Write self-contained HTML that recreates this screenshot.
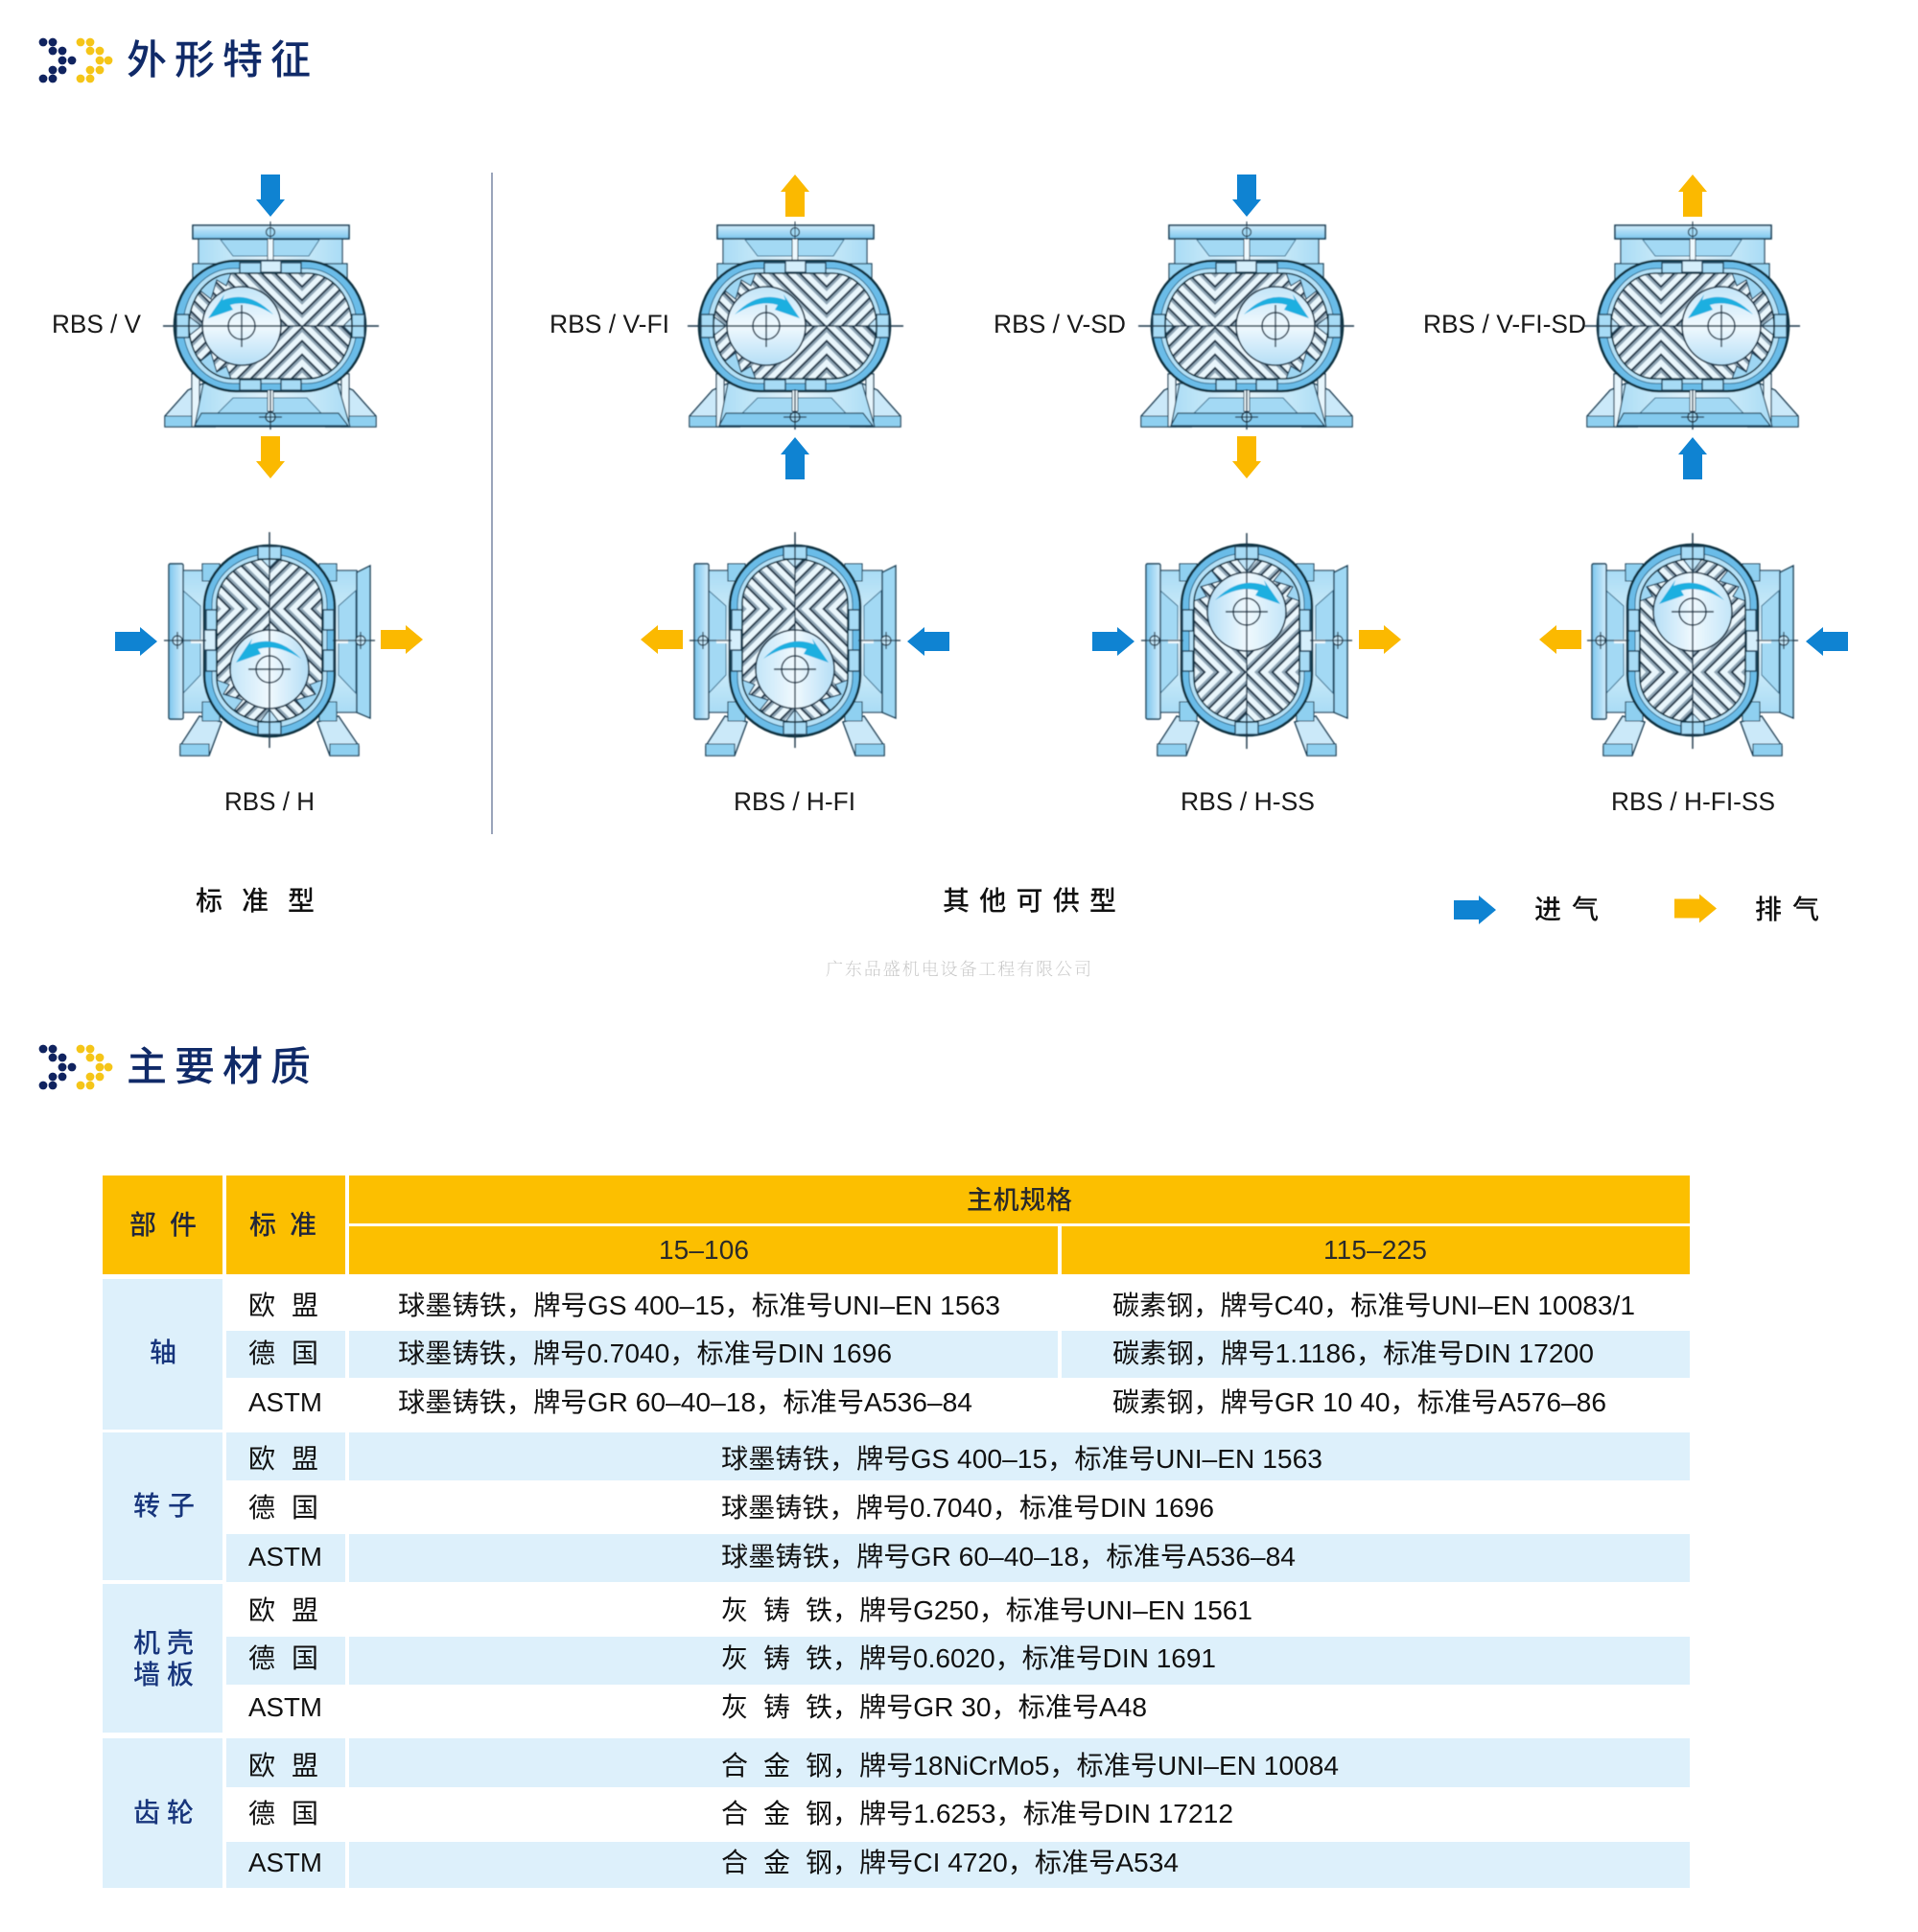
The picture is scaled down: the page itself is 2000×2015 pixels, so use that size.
<!DOCTYPE html>
<html lang="zh">
<head>
<meta charset="utf-8">
<title>外形特征 主要材质</title>
<style>
html,body{margin:0;padding:0;background:#fff;width:2000px;height:2015px;overflow:hidden}
svg{display:block}
text{font-family:"Liberation Sans","Noto Sans CJK SC",sans-serif;fill:#111}
.t{font-size:28px}
.h{font-size:28px;font-weight:500}
.n{font-size:28px;font-weight:500;fill:#17357c}
.title{font-size:42px;fill:#102a68;font-weight:500}
.lab{font-size:26.5px;fill:#1a1a1a}
.cap{font-size:28px;font-weight:500;fill:#111}
</style>
</head>
<body>
<svg xmlns="http://www.w3.org/2000/svg" width="2000" height="2015" viewBox="0 0 2000 2015">
<defs>
<filter id="soft" x="-2%" y="-2%" width="104%" height="104%"><feGaussianBlur stdDeviation="0.45"/></filter>
<linearGradient id="rot" x1="0" y1="0" x2="0" y2="1"><stop offset="0" stop-color="#c3e5f8"/><stop offset=".5" stop-color="#f0f9fe"/><stop offset="1" stop-color="#b5def6"/></linearGradient>
<linearGradient id="lg" x1="0" y1="0" x2="1" y2="0"><stop offset="0" stop-color="#a9dcf5"/><stop offset=".5" stop-color="#e4f4fc"/><stop offset="1" stop-color="#a9dcf5"/></linearGradient>
<linearGradient id="lgv" x1="0" y1="0" x2="0" y2="1"><stop offset="0" stop-color="#a9dcf5"/><stop offset=".5" stop-color="#e4f4fc"/><stop offset="1" stop-color="#a9dcf5"/></linearGradient>
<linearGradient id="fl" x1="0" y1="0" x2="0" y2="1"><stop offset="0" stop-color="#d2edfb"/><stop offset="1" stop-color="#7cc6ee"/></linearGradient>
<linearGradient id="flh" x1="0" y1="0" x2="1" y2="0"><stop offset="0" stop-color="#7cc6ee"/><stop offset="1" stop-color="#d2edfb"/></linearGradient>
<pattern id="ha" width="10" height="10" patternUnits="userSpaceOnUse" patternTransform="translate(33 0) rotate(45)">
<rect width="10" height="10" fill="#e9f6fc"/><rect x="0" y="0" width="10" height="2.2" fill="#22394c"/><rect x="0" y="2.2" width="10" height="2.2" fill="#8ea5b5"/>
</pattern>
<pattern id="hb" width="10" height="10" patternUnits="userSpaceOnUse" patternTransform="translate(33 0) rotate(-45)">
<rect width="10" height="10" fill="#e9f6fc"/><rect x="0" y="0" width="10" height="2.2" fill="#22394c"/><rect x="0" y="2.2" width="10" height="2.2" fill="#8ea5b5"/>
</pattern>
<clipPath id="chamber"><rect x="-85" y="-55" width="170" height="110" rx="46" ry="55"/></clipPath>

<path id="arr" d="M0,-10H26V-15L44,0L26,15V10H0Z"/>
<path id="rar" d="M33,-12Q8,-38 -20,-27L-18,-33L-35,-8L-9,-17L-12,-22Q8,-28 33,-12Z" fill="#1cafe0"/>

<g id="core">
<rect x="-100" y="-68" width="199" height="136" rx="64" ry="68" fill="#6abce8" stroke="#10303f" stroke-width="2.6"/>
<rect x="-91" y="-60" width="181" height="120" rx="52" ry="60" fill="#b4e0f6" stroke="#2a6788" stroke-width="1"/>
<g fill="#a7dbf5" stroke="#1a4058" stroke-width="1.4">
<rect x="-32" y="-66" width="22" height="11"/><rect x="11" y="-66" width="21" height="11"/><rect x="-10" y="-68" width="21" height="12" fill="#d5eefb"/>
<rect x="-32" y="56" width="22" height="11"/><rect x="11" y="56" width="21" height="11"/>
<rect x="-98" y="-12" width="13" height="24"/><rect x="85" y="-12" width="13" height="24"/>
</g>
<rect x="-85" y="-55" width="170" height="110" rx="46" ry="55" fill="#e9f6fc"/>
<g clip-path="url(#chamber)">
<rect x="-90" y="-60" width="123" height="60" fill="url(#ha)"/>
<rect x="33" y="0" width="60" height="60" fill="url(#ha)"/>
<rect x="33" y="-60" width="60" height="60" fill="url(#hb)"/>
<rect x="-90" y="0" width="123" height="60" fill="url(#hb)"/>
<path d="M-85,-24L-72,-36L-62,-28L-56,-48L-46,-42L-40,-58L-100,-58Z" fill="#9ed6f3" stroke="#1a4058" stroke-width="1.2"/>
<path d="M-85,24L-72,36L-62,28L-56,48L-46,42L-40,58L-100,58Z" fill="#9ed6f3" stroke="#1a4058" stroke-width="1.2"/>
<path d="M85,-26L76,-40L64,-56H100Z M85,26L76,40L64,56H100Z" fill="#9ed6f3" stroke="#1a4058" stroke-width="1.2"/>
<path d="M-90,-14L-72,0L-90,14Z M90,-14L76,0L90,14Z" fill="#bfe4f8" stroke="#1a4058" stroke-width="1.2"/>
</g>
<rect x="-85" y="-55" width="170" height="110" rx="46" ry="55" fill="none" stroke="#10303f" stroke-width="1.6"/>
<circle cx="-30" cy="0" r="41" fill="url(#rot)" stroke="#1a3446" stroke-width="1.6"/>
<circle cx="-30" cy="0" r="14" fill="none" stroke="#1a3446" stroke-width="1.5"/>
<path d="M-112,0H113M-30,-22V22" stroke="#1a3446" stroke-width="1.4" fill="none"/>
</g>

<g id="hv">
<path d="M-110,94L-86,67L-70,60L-58,105H-110Z" fill="#cbe9f9" stroke="#153d55" stroke-width="1.5"/>
<path d="M110,94L86,67L70,60L58,105H110Z" fill="#cbe9f9" stroke="#153d55" stroke-width="1.5"/>
<path d="M-110,94H-58V105H-110Z M58,94H110V105H58Z" fill="#8fd0f0" stroke="#153d55" stroke-width="1"/>
<path d="M-82,50H-74V105H-82Z M74,50H82V105H74Z" fill="#e6f5fc" stroke="#153d55" stroke-width="1.2"/>
<path d="M-70,60H70L83,105H-79Z" fill="url(#lg)" stroke="#153d55" stroke-width="1.2"/>
<path d="M-39,75H38L53,91H-55Z" fill="#a3d9f4" stroke="#3a6f8d" stroke-width="1"/>
<path d="M-72,91H71L81,104H-79Z" fill="#84caee" stroke="#153d55" stroke-width="1.2"/>
<rect x="-75" y="-91" width="150" height="30" fill="url(#lg)" stroke="#153d55" stroke-width="1.2"/>
<path d="M-52,-90H51L40,-73H-39Z" fill="#a3d9f4" stroke="#3a6f8d" stroke-width="1"/>
<rect x="-81" y="-65" width="161" height="20" fill="#98d4f2" stroke="#153d55" stroke-width="1.2"/>
<rect x="-81" y="-105" width="163" height="14" fill="url(#fl)" stroke="#153d55" stroke-width="1.6"/>
<rect x="-3" y="-91" width="6" height="26" fill="#eef9fe" stroke="#153d55" stroke-width="1"/>
<circle cx="0" cy="-98" r="4.5" fill="#a3d9f4" stroke="#1a3446" stroke-width="1.2"/>
<path d="M0,-109V-90" stroke="#1a3446" stroke-width="1"/>
</g>
<g id="hv2">
<rect x="-3" y="67" width="6" height="22" fill="#eef9fe" stroke="#153d55" stroke-width="1"/>
<circle cx="0" cy="95" r="5" fill="#a3d9f4" stroke="#1a3446" stroke-width="1.4"/>
<path d="M-12,95H12M0,66V108" stroke="#1a3446" stroke-width="1.3"/>
</g>

<g id="hh">
<path d="M-93,110L-73,79L-50,85L-63,120H-93Z" fill="#cbe9f9" stroke="#153d55" stroke-width="1.5"/>
<path d="M93,110L72,79L50,85L63,120H93Z" fill="#cbe9f9" stroke="#153d55" stroke-width="1.5"/>
<path d="M-93,108H-63V120H-93Z M63,108H93V120H63Z" fill="#8fd0f0" stroke="#153d55" stroke-width="1.1"/>
<rect x="-91" y="-73" width="182" height="148" fill="url(#lgv)" stroke="#153d55" stroke-width="1.2"/>
<path d="M-90,-52L-72,-36V36L-90,55Z M90,-52L72,-36V36L90,55Z" fill="#a3d9f4" stroke="#3a6f8d" stroke-width="1"/>
<rect x="-82" y="-1" width="16" height="4" fill="#f2fbff"/><rect x="66" y="-1" width="16" height="4" fill="#f2fbff"/>
<rect x="-105" y="-80" width="15" height="162" rx="1.5" fill="url(#flh)" stroke="#153d55" stroke-width="1.4"/>
<path d="M91,-71L105,-78V81L91,75Z" fill="#9fd8f4" stroke="#153d55" stroke-width="1.4"/>
<path d="M-70,-80H-52V-62H-70Z M52,-80H70V-62H52Z M-70,64H-52V84H-70Z M52,64H70V84H52Z" fill="#8fd0f0" stroke="#153d55" stroke-width="1.1"/>
</g>
<g id="hh2">
<circle cx="-96" cy="0" r="5" fill="#c6e8f9" stroke="#1a3446" stroke-width="1.2"/>
<circle cx="95" cy="0" r="5" fill="#c6e8f9" stroke="#1a3446" stroke-width="1.2"/>
<path d="M-110,0H-66M66,0H110M-96,-9V9M95,-9V9" stroke="#1a3446" stroke-width="1.2"/>
</g>
</defs>

<rect width="2000" height="2015" fill="#fff"/>

<!-- logos -->
<g id="logo">
<g fill="#10235f"><circle cx="45" cy="44" r="4.4"/><circle cx="55" cy="44" r="4.4"/><circle cx="55" cy="53" r="4.4"/><circle cx="65" cy="53" r="4.4"/><circle cx="65" cy="63" r="4.4"/><circle cx="75" cy="63" r="4.4"/><circle cx="55" cy="73" r="4.4"/><circle cx="65" cy="73" r="4.4"/><circle cx="45" cy="82" r="4.4"/><circle cx="55" cy="82" r="4.4"/></g>
<g fill="#f5c518"><circle cx="84" cy="44" r="4.4"/><circle cx="94" cy="44" r="4.4"/><circle cx="94" cy="53" r="4.4"/><circle cx="104" cy="53" r="4.4"/><circle cx="104" cy="63" r="4.4"/><circle cx="113" cy="63" r="4.4"/><circle cx="94" cy="73" r="4.4"/><circle cx="104" cy="73" r="4.4"/><circle cx="84" cy="82" r="4.4"/><circle cx="94" cy="82" r="4.4"/></g>
</g>
<use href="#logo" transform="translate(0 1050)"/>
<text class="title" x="132" y="77" textLength="192" lengthAdjust="spacing">外形特征</text>
<text class="title" x="132" y="1127" textLength="192" lengthAdjust="spacing">主要材质</text>

<!-- machines -->
<g filter="url(#soft)">
<g transform="translate(282 340)"><use href="#hv"/><use href="#core"/><use href="#hv2"/></g>
<use href="#rar" transform="translate(252 340)"/>
<g transform="translate(829 340)"><use href="#hv"/><use href="#core"/><use href="#hv2"/></g>
<use href="#rar" transform="translate(799 340) scale(-1 1)"/>
<g transform="translate(1300 340)"><use href="#hv"/><use href="#core" transform="scale(-1 1)"/><use href="#hv2"/></g>
<use href="#rar" transform="translate(1330 340) scale(-1 1)"/>
<g transform="translate(1765 340)"><use href="#hv"/><use href="#core" transform="scale(-1 1)"/><use href="#hv2"/></g>
<use href="#rar" transform="translate(1795 340)"/>

<g transform="translate(281 668)"><use href="#hh"/><use href="#core" transform="rotate(-90)"/><use href="#hh2"/></g>
<use href="#rar" transform="translate(281 699)"/>
<g transform="translate(829 668)"><use href="#hh"/><use href="#core" transform="rotate(-90)"/><use href="#hh2"/></g>
<use href="#rar" transform="translate(829 699) scale(-1 1)"/>
<g transform="translate(1300 668)"><use href="#hh"/><use href="#core" transform="rotate(90)"/><use href="#hh2"/></g>
<use href="#rar" transform="translate(1300 638) scale(-1 1)"/>
<g transform="translate(1765 668)"><use href="#hh"/><use href="#core" transform="rotate(90)"/><use href="#hh2"/></g>
<use href="#rar" transform="translate(1765 638)"/>
</g>

<!-- flow arrows -->
<g fill="#0f83d2">
<use href="#arr" transform="translate(282 182) rotate(90)"/>
<use href="#arr" transform="translate(1300 182) rotate(90)"/>
<use href="#arr" transform="translate(829 500) rotate(-90)"/>
<use href="#arr" transform="translate(1765 500) rotate(-90)"/>
<use href="#arr" transform="translate(120 669)"/>
<use href="#arr" transform="translate(990 669) rotate(180)"/>
<use href="#arr" transform="translate(1139 669)"/>
<use href="#arr" transform="translate(1927 669) rotate(180)"/>
<use href="#arr" transform="translate(1516 949)"/>
</g>
<g fill="#fbb900">
<use href="#arr" transform="translate(282 455) rotate(90)"/>
<use href="#arr" transform="translate(1300 455) rotate(90)"/>
<use href="#arr" transform="translate(829 226) rotate(-90)"/>
<use href="#arr" transform="translate(1765 226) rotate(-90)"/>
<use href="#arr" transform="translate(397 667)"/>
<use href="#arr" transform="translate(712 667) rotate(180)"/>
<use href="#arr" transform="translate(1417 667)"/>
<use href="#arr" transform="translate(1649 667) rotate(180)"/>
<use href="#arr" transform="translate(1746 947.5)"/>
</g>

<!-- separator -->
<rect x="512" y="180" width="2" height="690" fill="#9aa4ba"/>

<!-- labels -->
<text class="lab" x="54" y="347" textLength="93" lengthAdjust="spacingAndGlyphs">RBS / V</text>
<text class="lab" x="573" y="347" textLength="125" lengthAdjust="spacingAndGlyphs">RBS / V-FI</text>
<text class="lab" x="1036" y="347" textLength="138" lengthAdjust="spacingAndGlyphs">RBS / V-SD</text>
<text class="lab" x="1484" y="347" textLength="170" lengthAdjust="spacingAndGlyphs">RBS / V-FI-SD</text>
<text class="lab" x="234" y="845" textLength="94" lengthAdjust="spacingAndGlyphs">RBS / H</text>
<text class="lab" x="765" y="845" textLength="127" lengthAdjust="spacingAndGlyphs">RBS / H-FI</text>
<text class="lab" x="1231" y="845" textLength="140" lengthAdjust="spacingAndGlyphs">RBS / H-SS</text>
<text class="lab" x="1680" y="845" textLength="171" lengthAdjust="spacingAndGlyphs">RBS / H-FI-SS</text>

<text class="cap" x="204" y="949" textLength="124" lengthAdjust="spacing">标准型</text>
<text class="cap" x="983" y="949" textLength="181" lengthAdjust="spacing">其他可供型</text>
<text class="cap" x="1600" y="958" textLength="67" lengthAdjust="spacing">进气</text>
<text class="cap" x="1830" y="958" textLength="67" lengthAdjust="spacing">排气</text>

<text x="861" y="1017" textLength="277" lengthAdjust="spacing" style="font-size:18px;fill:#c4c4c4;font-family:'Noto Serif CJK SC','Liberation Serif',serif;font-weight:200">广东品盛机电设备工程有限公司</text>

<!-- table fills -->
<g fill="#fcbf00">
<rect x="107" y="1226" width="125" height="103"/>
<rect x="236" y="1226" width="124" height="103"/>
<rect x="364" y="1226" width="1398" height="50"/>
<rect x="364" y="1279" width="739" height="50"/>
<rect x="1107" y="1279" width="655" height="50"/>
</g>
<g fill="#ddf0fb">
<rect x="107" y="1334" width="125" height="157"/>
<rect x="107" y="1494" width="125" height="154"/>
<rect x="107" y="1652" width="125" height="155"/>
<rect x="107" y="1813" width="125" height="156"/>
<rect x="236" y="1388" width="124" height="49"/><rect x="364" y="1388" width="739" height="49"/><rect x="1107" y="1388" width="655" height="49"/>
<rect x="236" y="1494" width="124" height="50"/><rect x="364" y="1494" width="1398" height="50"/>
<rect x="236" y="1600" width="124" height="50"/><rect x="364" y="1600" width="1398" height="50"/>
<rect x="236" y="1707" width="124" height="50"/><rect x="364" y="1707" width="1398" height="50"/>
<rect x="236" y="1813" width="124" height="51"/><rect x="364" y="1813" width="1398" height="51"/>
<rect x="236" y="1921" width="124" height="48"/><rect x="364" y="1921" width="1398" height="48"/>
</g>

<!-- table header text -->
<text class="h" x="135" y="1287" textLength="70" lengthAdjust="spacing" style="fill:#20263c">部件</text>
<text class="h" x="260" y="1287" textLength="70" lengthAdjust="spacing" style="fill:#20263c">标准</text>
<text class="h" x="1008" y="1261" textLength="110" lengthAdjust="spacing" style="font-size:27px;fill:#2a2a2a">主机规格</text>
<text class="t" x="687" y="1313" textLength="94" style="fill:#2a2a2a">15–106</text>
<text class="t" x="1380" y="1313" textLength="108" style="fill:#2a2a2a">115–225</text>

<!-- left column -->
<text class="n" x="156" y="1420">轴</text>
<text class="n" x="139" y="1580" textLength="64" lengthAdjust="spacing">转子</text>
<text class="n" x="139" y="1723" textLength="63" lengthAdjust="spacing">机壳</text>
<text class="n" x="139" y="1756" textLength="63" lengthAdjust="spacing">墙板</text>
<text class="n" x="139" y="1900" textLength="63" lengthAdjust="spacing">齿轮</text>

<!-- standards -->
<g class="t">
<text class="t" x="259" y="1371" textLength="73" lengthAdjust="spacing">欧盟</text>
<text class="t" x="259" y="1421" textLength="73" lengthAdjust="spacing">德国</text>
<text class="t" x="259" y="1472" textLength="77" lengthAdjust="spacingAndGlyphs">ASTM</text>
<text class="t" x="259" y="1531" textLength="73" lengthAdjust="spacing">欧盟</text>
<text class="t" x="259" y="1582" textLength="73" lengthAdjust="spacing">德国</text>
<text class="t" x="259" y="1633" textLength="77" lengthAdjust="spacingAndGlyphs">ASTM</text>
<text class="t" x="259" y="1689" textLength="73" lengthAdjust="spacing">欧盟</text>
<text class="t" x="259" y="1739" textLength="73" lengthAdjust="spacing">德国</text>
<text class="t" x="259" y="1790" textLength="77" lengthAdjust="spacingAndGlyphs">ASTM</text>
<text class="t" x="259" y="1851" textLength="73" lengthAdjust="spacing">欧盟</text>
<text class="t" x="259" y="1901" textLength="73" lengthAdjust="spacing">德国</text>
<text class="t" x="259" y="1952" textLength="77" lengthAdjust="spacingAndGlyphs">ASTM</text>
</g>

<!-- shaft rows -->
<text class="t" x="415" y="1371" textLength="628" lengthAdjust="spacingAndGlyphs">球墨铸铁，牌号GS 400–15，标准号UNI–EN 1563</text>
<text class="t" x="415" y="1421" textLength="515" lengthAdjust="spacingAndGlyphs">球墨铸铁，牌号0.7040，标准号DIN 1696</text>
<text class="t" x="415" y="1472" textLength="599" lengthAdjust="spacingAndGlyphs">球墨铸铁，牌号GR 60–40–18，标准号A536–84</text>
<text class="t" x="1160" y="1371" textLength="545" lengthAdjust="spacingAndGlyphs">碳素钢，牌号C40，标准号UNI–EN 10083/1</text>
<text class="t" x="1160" y="1421" textLength="502" lengthAdjust="spacingAndGlyphs">碳素钢，牌号1.1186，标准号DIN 17200</text>
<text class="t" x="1160" y="1472" textLength="515" lengthAdjust="spacingAndGlyphs">碳素钢，牌号GR 10 40，标准号A576–86</text>

<!-- rotor rows -->
<text class="t" x="752" y="1531" textLength="627" lengthAdjust="spacingAndGlyphs">球墨铸铁，牌号GS 400–15，标准号UNI–EN 1563</text>
<text class="t" x="752" y="1582" textLength="514" lengthAdjust="spacingAndGlyphs">球墨铸铁，牌号0.7040，标准号DIN 1696</text>
<text class="t" x="752" y="1633" textLength="599" lengthAdjust="spacingAndGlyphs">球墨铸铁，牌号GR 60–40–18，标准号A536–84</text>

<!-- casing rows -->
<text class="t" x="752 796 840 868" y="1689">灰铸铁，</text>
<text class="t" x="896" y="1689" textLength="410" lengthAdjust="spacingAndGlyphs">牌号G250，标准号UNI–EN 1561</text>
<text class="t" x="752 796 840 868" y="1739">灰铸铁，</text>
<text class="t" x="896" y="1739" textLength="372" lengthAdjust="spacingAndGlyphs">牌号0.6020，标准号DIN 1691</text>
<text class="t" x="752 796 840 868" y="1790">灰铸铁，</text>
<text class="t" x="896" y="1790" textLength="300" lengthAdjust="spacingAndGlyphs">牌号GR 30，标准号A48</text>

<!-- gear rows -->
<text class="t" x="752 796 840 868" y="1851">合金钢，</text>
<text class="t" x="896" y="1851" textLength="500" lengthAdjust="spacingAndGlyphs">牌号18NiCrMo5，标准号UNI–EN 10084</text>
<text class="t" x="752 796 840 868" y="1901">合金钢，</text>
<text class="t" x="896" y="1901" textLength="390" lengthAdjust="spacingAndGlyphs">牌号1.6253，标准号DIN 17212</text>
<text class="t" x="752 796 840 868" y="1952">合金钢，</text>
<text class="t" x="896" y="1952" textLength="333" lengthAdjust="spacingAndGlyphs">牌号CI 4720，标准号A534</text>
</svg>
</body>
</html>
